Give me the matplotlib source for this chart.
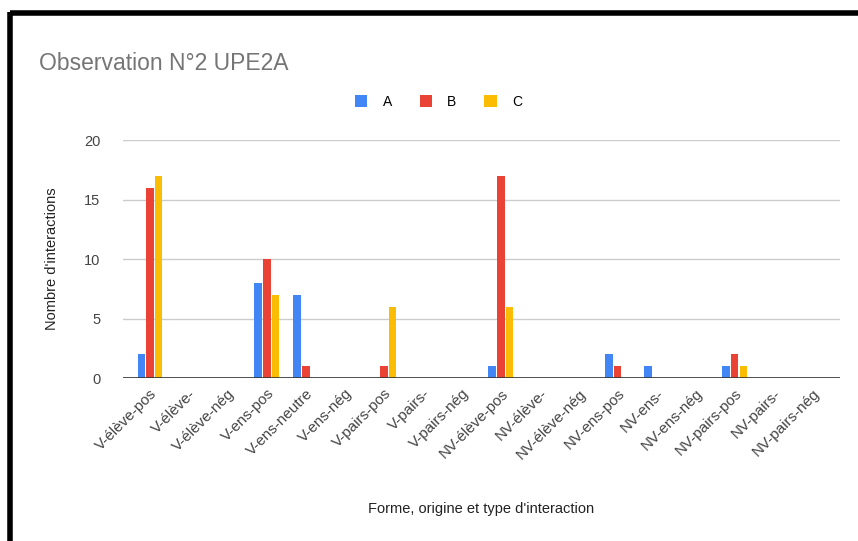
import matplotlib.pyplot as plt
import numpy as np
from matplotlib.lines import Line2D

plt.rcParams['font.family'] = ['Liberation Sans', 'DejaVu Sans']

# ── Data ─────────────────────────────────────────────────────────────────────
categories = [
    'V-élève-pos', 'V-élève-', 'V-élève-nég',
    'V-ens-pos', 'V-ens-neutre', 'V-ens-nég',
    'V-pairs-pos', 'V-pairs-', 'V-pairs-nég',
    'NV-élève-pos', 'NV-élève-', 'NV-élève-nég',
    'NV-ens-pos', 'NV-ens-', 'NV-ens-nég',
    'NV-pairs-pos', 'NV-pairs-', 'NV-pairs-nég',
]
series_names = ['A', 'B', 'C']
vals_a = [2, 0, 0, 8, 7, 0, 0, 0, 0, 1, 0, 0, 2, 1, 0, 1, 0, 0]
vals_b = [16, 0, 0, 10, 1, 0, 1, 0, 0, 17, 0, 0, 1, 0, 0, 2, 0, 0]
vals_c = [17, 0, 0, 7, 0, 0, 6, 0, 0, 6, 0, 0, 0, 0, 0, 1, 0, 0]
yticks = [0, 5, 10, 15, 20]

colors = ['#4285F4', '#EA4335', '#FBBC04']

# ── Figure ───────────────────────────────────────────────────────────────────
fig = plt.figure(figsize=(8.58, 5.41), dpi=100)
ax = fig.add_axes([0.143, 0.301, 0.836, 0.440])

x = np.arange(len(categories))
bw, step = 0.19, 0.225
for i, (vals, col, name) in enumerate(zip([vals_a, vals_b, vals_c], colors, series_names)):
    ax.bar(x + (i - 1) * step, vals, width=bw, color=col, label=name, zorder=3)

ax.set_xlim(-0.7, len(categories) - 0.3)
ax.set_ylim(0, 20)
ax.set_yticks(yticks)
ax.grid(axis='y', color='#cccccc', lw=1, zorder=0)
ax.axhline(0, color='#333333', lw=1.2, zorder=4)
for s in ax.spines.values():
    s.set_visible(False)
ax.tick_params(axis='both', length=0, labelsize=10.5, labelcolor='#444444')
ax.tick_params(axis='y', pad=16)
ax.set_xticks(x)
ax.set_xticklabels(categories, rotation=45, ha='right', rotation_mode='anchor',
                   fontsize=11, color='#444444')
ax.tick_params(axis='x', pad=6)

ax.set_ylabel("Nombre d'interactions", fontsize=10.5, color='#222222', labelpad=18)
ax.set_xlabel("Forme, origine et type d'interaction", fontsize=10.5, color='#222222',
              labelpad=29)

# title + legend
fig.text(0.045, 0.883, 'Observation N°2 UPE2A', fontsize=16.5, color='#757575',
         va='center', ha='left')
fig.legend(loc='center', bbox_to_anchor=(0.511, 0.812), ncol=3, frameon=False,
           fontsize=10, handlelength=0.9, handleheight=1.0, columnspacing=2.0,
           handletextpad=1.1)

# black frame (top + left)
fig.add_artist(Line2D([0.012, 1.0], [0.976, 0.976], color='black', lw=4,
                      transform=fig.transFigure, solid_capstyle='butt'))
fig.add_artist(Line2D([0.012, 0.012], [0.0, 0.978], color='black', lw=4,
                      transform=fig.transFigure, solid_capstyle='butt'))

plt.savefig('out.png', dpi=100)
